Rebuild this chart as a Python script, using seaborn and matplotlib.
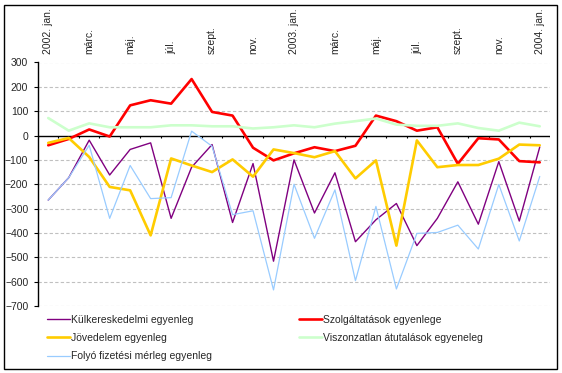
import numpy as np
import pandas as pd
import matplotlib
matplotlib.use("Agg")
import matplotlib.pyplot as plt
from matplotlib.patches import Rectangle
import seaborn as sns

# ---- data (millió euró, havi) ----
months = ["2002-01", "2002-02", "2002-03", "2002-04", "2002-05", "2002-06", "2002-07",
          "2002-08", "2002-09", "2002-10", "2002-11", "2002-12", "2003-01", "2003-02",
          "2003-03", "2003-04", "2003-05", "2003-06", "2003-07", "2003-08", "2003-09",
          "2003-10", "2003-11", "2003-12", "2004-01"]
tick_labels = ["2002. jan.", "márc.", "máj.", "júl.", "szept.", "nov.",
               "2003. jan.", "márc.", "máj.", "júl.", "szept.", "nov.", "2004. jan."]

kulker = [-265, -173, -19, -162, -57, -30, -340, -130, -37, -357, -115, -516, -100,
          -318, -153, -436, -346, -279, -452, -340, -190, -364, -107, -351, -47]
szolg = [-40, -14, 25, -4, 124, 145, 131, 232, 97, 82, -50, -102, -73,
         -48, -64, -42, 82, 59, 20, 34, -116, -11, -16, -105, -110]
jovedelem = [-30, -10, -88, -211, -225, -410, -94, -123, -150, -98, -169, -57, -72,
             -89, -64, -176, -102, -452, -20, -130, -121, -121, -95, -37, -40]
viszonz = [72, 20, 50, 34, 34, 34, 42, 42, 38, 38, 29, 34, 42,
           34, 49, 59, 70, 45, 40, 40, 50, 31, 20, 53, 38]
folyo = [-265, -173, -40, -340, -123, -259, -255, 18, -44, -325, -309, -634, -200,
         -422, -223, -596, -291, -630, -402, -398, -368, -466, -201, -433, -168]

series_names = ["Külkereskedelmi egyenleg", "Szolgáltatások egyenlege",
                "Jövedelem egyenleg", "Viszonzatlan átutalások egyeneleg",
                "Folyó fizetési mérleg egyenleg"]
series_values = [kulker, szolg, jovedelem, viszonz, folyo]
colors = ["#800080", "#FF0000", "#FFCC00", "#CCFFCC", "#99CCFF"]
widths = [1.0, 1.9, 1.9, 1.9, 0.9]

df = pd.DataFrame({"pos": np.tile(np.arange(len(months)), len(series_names)),
                   "series": np.repeat(series_names, len(months)),
                   "value": np.concatenate(series_values)})

sns.set_style("white")
plt.rcParams["font.family"] = ["Liberation Sans", "DejaVu Sans"]
FS = 7.5

fig = plt.figure(figsize=(5.62, 3.73), dpi=100)
ax = fig.add_axes([38 / 562, 67 / 373, (550 - 38) / 562, (306 - 62.5) / 373])

handles = {}
for name, col, lw in zip(series_names, colors, widths):
    sub = df[df["series"] == name]
    sns.lineplot(data=sub, x="pos", y="value", ax=ax, color=col, lw=lw,
                 label=name, legend=False)
    handles[name] = ax.lines[-1]

n = len(months)
ax.set_xlim(-0.5, n - 0.5)
ax.set_ylim(-700, 300)
ax.set_yticks(np.arange(-700, 301, 100))
for v in np.arange(-700, 301, 100):
    if v != 0:
        ax.axhline(v, color="#C0C0C0", lw=0.8, ls=(0, (3, 2)), zorder=0)
ax.axhline(0, color="black", lw=1.0, zorder=1)
ax.vlines(np.arange(-0.5, n, 1.0), -12, 0, color="black", lw=0.8, zorder=1)

ax.xaxis.tick_top()
ax.set_xticks(np.arange(0, n, 2))
ax.set_xticklabels(tick_labels, rotation=90, fontsize=FS)
ax.tick_params(axis="x", length=0, pad=6)
ax.tick_params(axis="y", left=True, length=3, width=0.8, color="black",
               labelsize=FS, pad=4)
ax.set_xlabel("")
ax.set_ylabel("")
for s in ["top", "right", "bottom"]:
    ax.spines[s].set_visible(False)
ax.spines["left"].set_color("black")
ax.spines["left"].set_linewidth(1.0)

order = [series_names[0], series_names[2], series_names[4],
         series_names[1], series_names[3]]
fig.legend([handles[k] for k in order], order, ncol=2, loc="upper left",
           bbox_to_anchor=(47 / 562, 1 - 315 / 373), frameon=False, fontsize=FS,
           handlelength=2.2, handletextpad=0.15, columnspacing=8.3,
           labelspacing=0.78, borderaxespad=0, borderpad=0)

fig.patches.append(Rectangle((4 / 562, 4 / 373), 553 / 562, 364 / 373,
                             transform=fig.transFigure, fill=False,
                             edgecolor="black", lw=1.0))

fig.savefig("out.png", dpi=100)
